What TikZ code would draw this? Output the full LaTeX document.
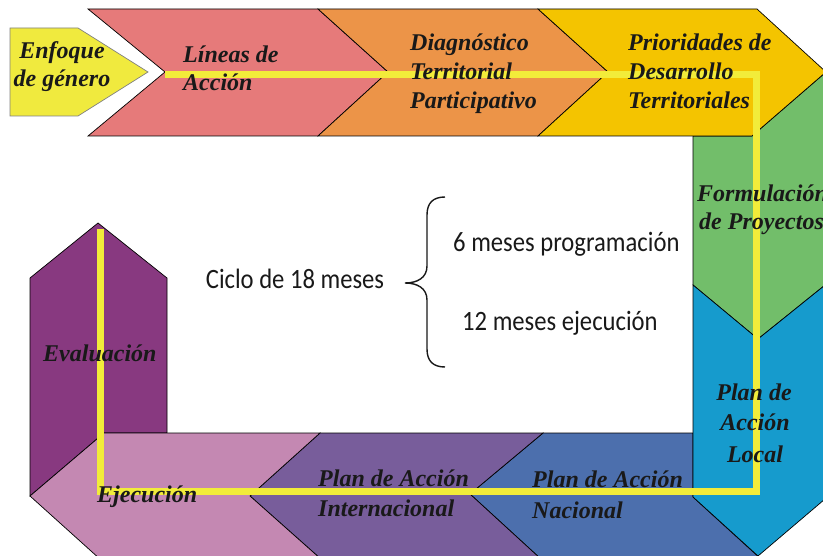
\documentclass[tikz,border=0pt]{standalone}
\usepackage{fontspec}
\setmainfont{Liberation Serif}
\newfontfamily\cyclefont[FakeStretch=0.88]{Carlito}
\definecolor{cEnf}{RGB}{240,234,62}
\definecolor{cLin}{RGB}{230,122,122}
\definecolor{cDia}{RGB}{236,148,72}
\definecolor{cPri}{RGB}{244,196,0}
\definecolor{cFor}{RGB}{114,190,106}
\definecolor{cLoc}{RGB}{22,155,205}
\definecolor{cNac}{RGB}{76,111,173}
\definecolor{cInt}{RGB}{120,93,155}
\definecolor{cEje}{RGB}{196,136,178}
\definecolor{cEva}{RGB}{136,57,128}
\definecolor{cYel}{RGB}{242,236,58}
\definecolor{cTxt}{RGB}{25,25,25}
\begin{document}
\begin{tikzpicture}[x=1pt,y=-1pt,
  blk/.style={draw=black,line width=0.7pt,line join=miter},
  lbl/.style={font=\fontsize{24}{29}\selectfont\bfseries\itshape,text=cTxt,inner sep=0pt},
  cyc/.style={font=\cyclefont\fontsize{28}{32}\selectfont,text=cTxt,inner sep=0pt},
  yline/.style={draw=cYel,line width=7pt,line cap=butt,line join=miter}]
\useasboundingbox (0,0) rectangle (823,556);
\clip (0,0) rectangle (823,556);
\fill[white] (0,0) rectangle (823,556);

% top band
\path[blk,fill=cEnf,draw=gray] (10,28) -- (78,28) -- (148,72) -- (78,116) -- (10,116) -- cycle;
\path[blk,fill=cLin] (88,9) -- (318,9) -- (388,72) -- (318,136) -- (88,136) -- (165,72) -- cycle;
\path[blk,fill=cDia] (318,9) -- (538,9) -- (608,72) -- (538,136) -- (318,136) -- (388,72) -- cycle;
% right column
\path[blk,fill=cFor] (693,136) -- (752,136) -- (826,72) -- (845,72) -- (845,269) -- (758,339) -- (693,285) -- cycle;
\path[blk,fill=cPri] (538,9) -- (757,9) -- (826,72) -- (752,136) -- (538,136) -- (608,72) -- cycle;
% bottom band
\path[blk,fill=cNac] (543,433) -- (693,433) -- (693,497) -- (762,560) -- (542,560) -- (470,494) -- cycle;
\path[blk,fill=cLoc] (693,285) -- (758,339) -- (845,269) -- (845,482) -- (758,556) -- (693,497) -- cycle;
\path[blk,fill=cInt] (320,433) -- (543,433) -- (470,494) -- (542,560) -- (322,560) -- (250,496) -- cycle;
\path[blk,fill=cEva] (30,278) -- (98,223) -- (167,278) -- (167,433) -- (104,433) -- (30,496) -- cycle;
\path[blk,fill=cEje] (104,433) -- (320,433) -- (250,496) -- (322,560) -- (101,560) -- (30,496) -- cycle;

% yellow cycle line
\coordinate (y0) at (165,75);
\coordinate (y1) at (756,75);
\coordinate (y2) at (756,491);
\coordinate (y3) at (100,491);
\coordinate (y4) at (100,229);
\draw[yline] (y0) -- (y1) -- (y2) -- (y3) -- (y4);

% labels
\node[lbl,anchor=base] (enf1) at (62,59) {Enfoque};
\node[lbl,anchor=base] (enf2) at (62,87) {de género};
\node[lbl,anchor=base west] (lin1) at (183,63) {Líneas de};
\node[lbl,anchor=base west] (lin2) at (183,91) {Acción};
\node[lbl,anchor=base west] (dia1) at (410,51) {Diagnóstico};
\node[lbl,anchor=base west] (dia2) at (410,80) {Territorial};
\node[lbl,anchor=base west] (dia3) at (410,109) {Participativo};
\node[lbl,anchor=base west] (pri1) at (628,51) {Prioridades de};
\node[lbl,anchor=base west] (pri2) at (628,80) {Desarrollo};
\node[lbl,anchor=base west] (pri3) at (628,109) {Territoriales};
\node[lbl,anchor=base west] (for1) at (697,202) {Formulación};
\node[lbl,anchor=base west] (for2) at (699,230) {de Proyectos};
\node[lbl,anchor=base] (loc1) at (754,400) {Plan de};
\node[lbl,anchor=base] (loc2) at (755,431) {Acción};
\node[lbl,anchor=base] (loc3) at (755,462) {Local};
\node[lbl,anchor=base west] (nac1) at (532,487) {Plan de Acción};
\node[lbl,anchor=base west] (nac2) at (532,518) {Nacional};
\node[lbl,anchor=base west] (int1) at (318,486) {Plan de Acción};
\node[lbl,anchor=base west] (int2) at (318,516) {Internacional};
\node[lbl,anchor=base west] (eje) at (97,502) {Ejecución};
\node[lbl,anchor=base west] (eva) at (43,362) {Evaluación};

% cycle text
\node[cyc,anchor=base] (ciclo) at (295,289) {Ciclo de 18 meses};
\node[cyc,anchor=base west] (prog) at (453,252) {6 meses programación};
\node[cyc,anchor=base west] (ejec) at (462,331) {12 meses ejecución};
\draw[line width=1.4pt,cTxt] (445,197) .. controls (433,197) and (427,203) .. (427,215)
  -- (427,266) .. controls (427,278) and (417,283) .. (405,283)
  .. controls (417,283) and (427,288) .. (427,300)
  -- (427,349) .. controls (427,361) and (433,367) .. (445,367);
\end{tikzpicture}
\end{document}
